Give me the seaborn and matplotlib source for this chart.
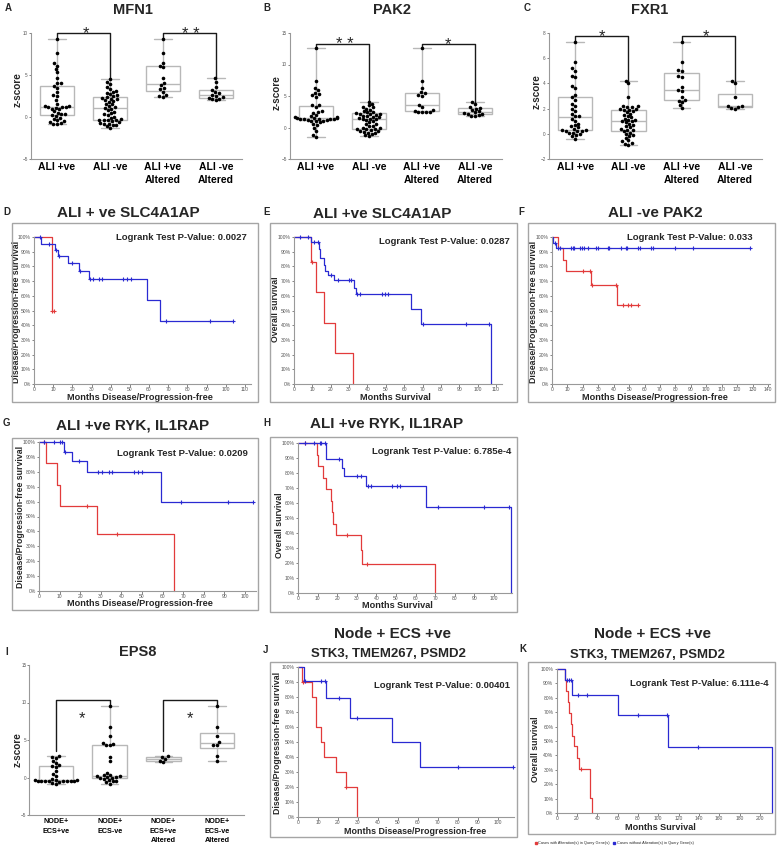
import numpy as np
import pandas as pd
import seaborn as sns
import matplotlib
matplotlib.use("Agg")
import matplotlib.pyplot as plt
from matplotlib.patches import Rectangle
from matplotlib.lines import Line2D
from matplotlib.ticker import PercentFormatter, MultipleLocator
from matplotlib.transforms import Affine2D

# ---------------- z-score data (box plots) ----------------
ali_groups = ["ALI +ve", "ALI -ve", "ALI +ve\nAltered", "ALI -ve\nAltered"]
node_groups = ["NODE+\nECS+ve", "NODE+\nECS-ve", "NODE+\nECS+ve\nAltered", "NODE+\nECS-ve\nAltered"]

mfn1_pos = [9.3, 7.6, 6.4, 6.1, 5.7, 5.3, 4.7, 4.1, 4.0, 3.7, 3.5, 3.0, 2.6, 2.5, 2.0, 1.6, 1.3, 1.3, 1.2,
            1.2, 1.2, 1.1, 1.0, 0.9, 0.7, 0.5, 0.4, 0.3, 0.2, 0.1, -0.1, -0.2, -0.4, -0.5, -0.6, -0.7, -0.8, -0.85]
mfn1_neg = [4.5, 4.2, 3.9, 3.6, 3.3, 3.1, 3.0, 2.9, 2.7, 2.6, 2.5, 2.4, 2.3, 2.2, 2.1, 2.0, 1.9, 1.8, 1.6,
            1.5, 1.3, 1.2, 1.1, 1.0, 0.8, 0.6, 0.5, 0.3, 0.2, 0.0, -0.1, -0.2, -0.3, -0.3, -0.4, -0.4, -0.5,
            -0.6, -0.7, -0.8, -0.8, -0.9, -1.0, -1.1, -1.3]
mfn1_pos_alt = [9.3, 7.6, 6.4, 6.1, 5.9, 4.7, 4.0, 3.8, 3.5, 3.3, 3.0, 2.6, 2.5, 2.4]
mfn1_neg_alt = [4.6, 4.2, 3.6, 3.2, 3.0, 2.8, 2.6, 2.5, 2.4, 2.3, 2.2, 2.1, 2.0]

pak2_pos = [12.6, 7.4, 6.2, 5.9, 5.5, 5.3, 5.1, 4.9, 3.6, 3.5, 3.3, 2.6, 2.5, 2.3, 2.0, 1.8, 1.6, 1.6, 1.5,
            1.5, 1.5, 1.4, 1.4, 1.4, 1.3, 1.3, 1.2, 1.2, 1.1, 1.1, 1.0, 0.8, 0.6, 0.4, 0.0, -0.5, -1.2, -1.5]
pak2_neg = [4.1, 3.8, 3.5, 3.3, 3.2, 3.0, 2.8, 2.6, 2.5, 2.4, 2.3, 2.2, 2.2, 2.1, 2.0, 1.9, 1.8, 1.7, 1.6,
            1.5, 1.4, 1.3, 1.3, 1.2, 1.0, 0.8, 0.6, 0.5, 0.3, 0.2, 0.0, -0.1, -0.2, -0.3, -0.3, -0.4, -0.5,
            -0.6, -0.7, -0.8, -0.9, -1.0, -1.2, -1.4]
pak2_pos_alt = [12.6, 7.4, 6.2, 5.6, 5.4, 5.2, 5.0, 3.6, 3.2, 2.8, 2.6, 2.5, 2.5, 2.4, 2.4]
pak2_neg_alt = [4.1, 3.7, 3.3, 3.1, 3.0, 2.8, 2.6, 2.4, 2.3, 2.2, 2.1, 2.0, 1.9, 1.8]

fxr1_pos = [7.3, 5.7, 5.2, 5.0, 4.6, 4.5, 3.8, 3.6, 3.1, 2.9, 2.7, 2.4, 2.2, 2.0, 1.8, 1.6, 1.4, 1.4, 1.2,
            1.0, 0.8, 0.7, 0.6, 0.5, 0.4, 0.3, 0.3, 0.2, 0.2, 0.2, 0.1, 0.1, 0.0, -0.1, -0.2, -0.4]
fxr1_neg = [4.2, 4.0, 2.9, 2.2, 2.2, 2.1, 2.1, 2.0, 2.0, 1.9, 1.9, 1.8, 1.7, 1.6, 1.5, 1.4, 1.3, 1.2, 1.1,
            1.1, 1.0, 1.0, 0.9, 0.8, 0.7, 0.6, 0.5, 0.4, 0.3, 0.3, 0.2, 0.1, 0.0, -0.1, -0.2, -0.3, -0.5,
            -0.6, -0.7, -0.8, -0.85]
fxr1_pos_alt = [7.3, 5.7, 5.1, 5.0, 4.6, 4.5, 3.7, 3.5, 3.4, 2.9, 2.7, 2.6, 2.5, 2.3, 2.05]
fxr1_neg_alt = [4.2, 4.0, 2.9, 2.2, 2.2, 2.1, 2.05, 2.0]

eps8_pos = [2.9, 2.7, 2.6, 2.2, 2.0, 1.7, 1.5, 1.4, 0.9, 0.5, 0.2, -0.2, -0.3, -0.3, -0.3, -0.4, -0.4,
            -0.4, -0.4, -0.4, -0.5, -0.5, -0.5, -0.6, -0.7, -0.8]
eps8_neg = [9.6, 6.8, 5.6, 4.6, 4.5, 4.4, 4.3, 2.8, 2.2, 0.6, 0.4, 0.3, 0.2, 0.2, 0.1, 0.1, 0.0, -0.1,
            -0.2, -0.3, -0.4, -0.5, -0.6, -0.8]
eps8_pos_alt = [2.9, 2.7, 2.5, 2.2, 2.1]
eps8_neg_alt = [9.6, 6.8, 5.6, 4.7, 4.4, 4.3, 2.9, 2.2]

# ---------------- Kaplan-Meier data (event times, survival after event, censor times) ----------------
d_blue_t = [3.6, 10.8, 12.5, 17.8, 23.3, 28.5, 58.7, 65.6]
d_blue_s = [0.955, 0.91, 0.868, 0.823, 0.77, 0.714, 0.571, 0.428]
d_blue_c = [3.0, 7.7, 11.3, 13.0, 19.8, 23.8, 29.0, 31.0, 34.0, 35.7, 46.5, 48.5, 50.5, 68.8, 91.7, 103.9]
d_red_t = [9.3]
d_red_s = [0.5]
d_red_c = [9.6, 10.4]

e_blue_t = [9.5, 13.7, 14.4, 16.2, 17.1, 18.6, 21.7, 32.6, 33.5, 63.8, 69.0, 107.5]
e_blue_s = [0.965, 0.92, 0.857, 0.81, 0.77, 0.74, 0.705, 0.655, 0.61, 0.51, 0.41, 0.0]
e_blue_c = [3.1, 7.6, 10.9, 12.8, 19.9, 23.7, 29.9, 31.3, 34.4, 36.0, 47.7, 49.5, 51.4, 70.5, 93.6, 106.4]
e_red_t = [9.1, 12.2, 16.2, 22.2, 32.2]
e_red_s = [0.833, 0.625, 0.417, 0.208, 0.0]
e_red_c = [9.8]

f_blue_t = [0.9, 2.4]
f_blue_s = [0.962, 0.923]
f_blue_c = [1.7, 3.9, 5.4, 12.6, 13.7, 14.3, 18.0, 19.7, 20.8, 23.4, 28.8, 29.5, 36.4, 37.1, 44.6, 47.7,
            48.3, 55.5, 57.0, 64.2, 65.7, 79.8, 91.2, 128.5]
f_red_t = [3.9, 7.2, 8.9, 25.1, 42.0]
f_red_s = [0.923, 0.846, 0.769, 0.673, 0.538]
f_red_c = [20.2, 24.5, 26.0, 41.5, 46.2, 49.4, 50.9, 55.5]

g_blue_t = [12.2, 16.2, 23.3, 59.2]
g_blue_s = [0.936, 0.872, 0.80, 0.60]
g_blue_c = [2.4, 7.1, 10.0, 11.2, 12.8, 19.4, 28.7, 30.6, 34.0, 35.5, 46.2, 48.1, 50.2, 68.7, 91.6, 103.7]
g_red_t = [3.2, 8.8, 10.0, 28.2, 65.5]
g_red_s = [0.857, 0.714, 0.571, 0.381, 0.0]
g_red_c = [2.4, 23.3, 38.0]

h_blue_t = [14.1, 22.6, 23.3, 34.9, 65.1, 108.5]
h_blue_s = [0.893, 0.833, 0.777, 0.714, 0.571, 0.0]
h_blue_c = [3.4, 8.0, 11.0, 11.9, 13.6, 20.9, 30.1, 32.0, 35.7, 37.1, 48.1, 50.5, 52.2, 71.4, 94.9, 107.5]
h_red_t = [9.7, 10.2, 12.8, 14.1, 16.7, 17.3, 17.9, 19.2, 32.3, 32.7, 69.7]
h_red_s = [0.923, 0.846, 0.769, 0.692, 0.615, 0.538, 0.462, 0.385, 0.288, 0.192, 0.0]
h_red_c = [3.4, 25.0, 35.4]

j_blue_t = [3.0, 13.8, 26.2, 47.0, 61.2]
j_blue_s = [0.909, 0.795, 0.663, 0.497, 0.331]
j_blue_c = [3.7, 11.3, 13.3, 20.5, 29.5, 80.0, 107.5]
j_red_t = [2.2, 7.0, 8.8, 11.7, 12.8, 19.2, 23.8, 29.5]
j_red_s = [0.9, 0.8, 0.6, 0.5, 0.4, 0.3, 0.2, 0.0]
j_red_c = [2.5, 24.2]

k_blue_t = [8.2, 15.4, 60.8, 109.4, 211.8]
k_blue_s = [0.923, 0.818, 0.682, 0.455, 0.0]
k_blue_c = [9.9, 12.2, 14.1, 20.7, 30.2, 80.5, 108.4, 139.6]
k_red_t = [8.2, 9.2, 10.8, 12.2, 13.8, 14.8, 17.1, 19.7, 22.3, 32.5, 33.2, 34.5]
k_red_s = [0.923, 0.846, 0.769, 0.692, 0.615, 0.538, 0.462, 0.385, 0.308, 0.205, 0.103, 0.0]
k_red_c = [23.6]

RED = "#e23b3b"
BLUE = "#2a2ad2"
W, H = 777, 852

sns.set_style("white")
plt.rcParams["font.family"] = ["Liberation Sans", "DejaVu Sans"]

fig = plt.figure(figsize=(W / 100, H / 100), dpi=100)
pix = Affine2D().scale(1 / W, -1 / H).translate(0, 1) + fig.transFigure


def px_axes(l, t, r, b):
    return fig.add_axes([l / W, 1 - b / H, (r - l) / W, (b - t) / H])


def label(x, y, s, size, **kw):
    kw.setdefault("ha", "center")
    kw.setdefault("va", "center")
    fig.text(x, y, s, fontsize=size, fontweight="bold", transform=pix, **kw)


def style_spines(ax):
    sns.despine(ax=ax)
    for s in ("left", "bottom"):
        ax.spines[s].set_color("#999999")
        ax.spines[s].set_linewidth(0.8)


def box_panel(rect, groups, values, ylim, ystep, ylab_xy, tick_size, tick_ls):
    ax = px_axes(*rect)
    df = pd.DataFrame({"group": np.repeat(groups, [len(v) for v in values]),
                       "z": np.concatenate(values)})
    sns.boxplot(data=df, x="group", y="z", order=groups, whis=(0, 100), width=0.65,
                color="white", linecolor="#b8b8b8", linewidth=1.0, showfliers=False, ax=ax)
    sns.swarmplot(data=df, x="group", y="z", order=groups, color="black", size=2.6, ax=ax)
    ax.set_xlim(-0.5, 3.5)
    ax.set_ylim(*ylim)
    ax.yaxis.set_major_locator(MultipleLocator(ystep))
    ax.set_xlabel("")
    ax.set_ylabel("z-score", fontsize=7.2, fontweight="bold", va="center")
    ax.yaxis.set_label_coords(*ylab_xy, transform=pix)
    ax.tick_params(axis="y", labelsize=3.3, colors="#555555", length=1.5, width=0.5, pad=0.5, left=True)
    ax.tick_params(axis="x", labelsize=tick_size, length=0, pad=2.5, colors="black")
    for t in ax.get_xticklabels():
        t.set_fontweight("bold")
        t.set_linespacing(tick_ls)
    style_spines(ax)
    return ax


def bracket(ax, i, j, ytop, yi, yj, stars, star_x, star_y=None, below=False):
    ax.plot([i, i, j, j], [yi, ytop, ytop, yj], color="#1a1a1a", lw=1.0, clip_on=False)
    if below:
        ax.text(star_x, star_y, stars, ha="center", va="baseline", fontsize=12, clip_on=False)
    else:
        ax.annotate(stars, xy=(star_x, ytop), xytext=(0, -4), textcoords="offset points",
                    ha="center", va="baseline", fontsize=12, annotation_clip=False)


def draw_curve(ax, drops, surv, cens, color):
    x = np.r_[0.0, drops]
    y = np.r_[1.0, surv]
    cens = np.asarray(cens, dtype=float)
    if cens.size and cens.max() > x[-1]:
        x = np.r_[x, cens.max()]
        y = np.r_[y, y[-1]]
    ax.step(x, y, where="post", color=color, lw=0.9, clip_on=False)
    cy = y[np.searchsorted(x, cens, side="right") - 1]
    ax.plot(cens, cy, ls="none", marker="+", ms=3.2, mew=0.8, color=color, clip_on=False)


def km_panel(rect, frame, xmax, xstep, curves, pval, pval_xy, ylab, ylab_xy, xlab, xlab_xy, xlab_size=6.6):
    l, t, r, b = frame
    fig.add_artist(Rectangle((l, t), r - l, b - t, transform=pix, fill=False,
                             ec="#a5a5a5", lw=1.0))
    ax = px_axes(*rect)
    for drops, surv, cens, color in curves:
        draw_curve(ax, drops, surv, cens, color)
    ax.set_xlim(0, xmax)
    ax.set_ylim(0, 1.0)
    ax.xaxis.set_major_locator(MultipleLocator(xstep))
    ax.yaxis.set_major_locator(MultipleLocator(0.1))
    ax.yaxis.set_major_formatter(PercentFormatter(1.0, decimals=0))
    ax.tick_params(labelsize=3.6, colors="#555555", length=1.8, width=0.5, pad=0.6,
                   left=True, bottom=True)
    style_spines(ax)
    ax.set_ylabel(ylab, fontsize=6.3, fontweight="bold", va="center")
    ax.yaxis.set_label_coords(*ylab_xy, transform=pix)
    ax.set_xlabel(xlab, fontsize=xlab_size, fontweight="bold", va="center")
    ax.xaxis.set_label_coords(*xlab_xy, transform=pix)
    label(pval_xy[0], pval_xy[1], pval, 6.8, ha="right")
    return ax


# ---------------- row 1: box plots ----------------
ax = box_panel((30.5, 33, 242.5, 159), ali_groups, [mfn1_pos, mfn1_neg, mfn1_pos_alt, mfn1_neg_alt],
               (-5, 10), 5, (18, 90), 7.5, 1.3)
bracket(ax, 0, 1, 10, max(mfn1_pos), max(mfn1_neg), "*", 0.55)
bracket(ax, 2, 3, 10, max(mfn1_pos_alt), max(mfn1_neg_alt), "* *", 2.52)
label(133, 10, "MFN1", 10.5)
label(8, 8, "A", 7)

ax = box_panel((289.5, 33, 501.5, 159), ali_groups, [pak2_pos, pak2_neg, pak2_pos_alt, pak2_neg_alt],
               (-5, 15), 5, (277, 93), 7.5, 1.3)
bracket(ax, 0, 1, 13.3, max(pak2_pos), max(pak2_neg), "* *", 0.55)
bracket(ax, 2, 3, 13.3, max(pak2_pos_alt), max(pak2_neg_alt), "*", 2.49)
label(392, 10, "PAK2", 10.5)
label(267, 8, "B", 7)

ax = box_panel((548.5, 33, 761.5, 159), ali_groups, [fxr1_pos, fxr1_neg, fxr1_pos_alt, fxr1_neg_alt],
               (-2, 8), 2, (537, 92), 7.5, 1.3)
bracket(ax, 0, 1, 7.76, max(fxr1_pos), max(fxr1_neg), "*", 0.5)
bracket(ax, 2, 3, 7.76, max(fxr1_pos_alt), max(fxr1_neg_alt), "*", 2.46)
label(650, 10, "FXR1", 10.5)
label(527, 8, "C", 7)

# ---------------- row 2 ----------------
km_panel((34, 237, 250.7, 384), (12, 223, 258, 402), 113, 10,
         [(d_red_t, d_red_s, d_red_c, RED), (d_blue_t, d_blue_s, d_blue_c, BLUE)],
         "Logrank Test P-Value: 0.0027", (247, 238),
         "Disease/Progression-free survival", (17, 312), "Months Disease/Progression-free", (140, 397))
label(128, 213, "ALI + ve SLC4A1AP", 11)
label(7, 212, "D", 7)

km_panel((294, 237, 501.5, 384), (270, 223, 517, 402), 113, 10,
         [(e_red_t, e_red_s, e_red_c, RED), (e_blue_t, e_blue_s, e_blue_c, BLUE)],
         "Logrank Test P-Value: 0.0287", (510, 241),
         "Overall survival", (276, 309), "Months Survival", (395, 397))
label(382, 214, "ALI +ve SLC4A1AP", 11)
label(267, 212, "E", 7)

km_panel((552, 237, 770, 384), (528, 223, 775, 402), 141.3, 10,
         [(f_red_t, f_red_s, f_red_c, RED), (f_blue_t, f_blue_s, f_blue_c, BLUE)],
         "Logrank Test P-Value: 0.033", (753, 237),
         "Disease/Progression-free survival", (533, 312), "Months Disease/Progression-free", (655, 397))
label(655, 213, "ALI -ve PAK2", 11)
label(521, 212, "F", 7)

# ---------------- row 3 ----------------
km_panel((39, 442, 256, 591), (12, 438, 258, 610), 105.3, 10,
         [(g_red_t, g_red_s, g_red_c, RED), (g_blue_t, g_blue_s, g_blue_c, BLUE)],
         "Logrank Test P-Value: 0.0209", (248, 453),
         "Disease/Progression-free survival", (21, 517), "Months Disease/Progression-free", (140, 604))
label(133, 425, "ALI +ve RYK, IL1RAP", 11)
label(6, 423, "G", 7)

km_panel((298, 443, 512, 593), (270, 437, 517, 612), 109.2, 10,
         [(h_red_t, h_red_s, h_red_c, RED), (h_blue_t, h_blue_s, h_blue_c, BLUE)],
         "Logrank Test P-Value: 6.785e-4", (511, 452),
         "Overall survival", (279, 525), "Months Survival", (397, 605))
label(387, 423, "ALI +ve RYK, IL1RAP", 11)
label(267, 423, "H", 7)

# ---------------- row 4 ----------------
ax = box_panel((29.2, 665, 243.8, 815), node_groups, [eps8_pos, eps8_neg, eps8_pos_alt, eps8_neg_alt],
               (-5, 15), 5, (18, 750), 5.2, 1.45)
bracket(ax, 0, 1, 10.4, max(eps8_pos) + 0.6, max(eps8_neg), "*", 0.48, 7.3, below=True)
bracket(ax, 2, 3, 10.4, max(eps8_pos_alt) + 0.6, max(eps8_neg_alt), "*", 2.5, 7.3, below=True)
label(138, 652, "EPS8", 10.5)
label(7, 652, "I", 7)

km_panel((298, 667, 514, 817), (270, 662, 517, 837), 108, 10,
         [(j_red_t, j_red_s, j_red_c, RED), (j_blue_t, j_blue_s, j_blue_c, BLUE)],
         "Logrank Test P-Value: 0.00401", (510, 685),
         "Disease/Progression-free survival", (278, 743), "Months Disease/Progression-free", (415, 831.5),
         xlab_size=6.4)
label(392, 634, "Node + ECS +ve", 11)
label(388, 654, "STK3, TMEM267, PSMD2", 9.5)
label(266, 650, "J", 7)

km_panel((556.7, 669, 772, 813), (528, 662, 775, 834), 212, 20,
         [(k_red_t, k_red_s, k_red_c, RED), (k_blue_t, k_blue_s, k_blue_c, BLUE)],
         "Logrank Test P-Value: 6.111e-4", (768, 683),
         "Overall survival", (536, 749), "Months Survival", (660, 827))
label(653, 634, "Node + ECS +ve", 11)
label(647, 655, "STK3, TMEM267, PSMD2", 9.5)
label(523, 649, "K", 7)

handles = [Line2D([], [], ls="none", marker="s", ms=1.6, color=RED),
           Line2D([], [], ls="none", marker="s", ms=1.6, color=BLUE)]
fig.legend(handles, ["Cases with Alteration(s) in Query Gene(s)", "Cases without Alteration(s) in Query Gene(s)"],
           loc="center left", bbox_to_anchor=(535 / W, 1 - 843 / H), ncol=2, fontsize=2.8,
           frameon=False, handlelength=0.6, handletextpad=0.3, columnspacing=0.8,
           borderpad=0, borderaxespad=0)

fig.savefig("out.png", dpi=100)
